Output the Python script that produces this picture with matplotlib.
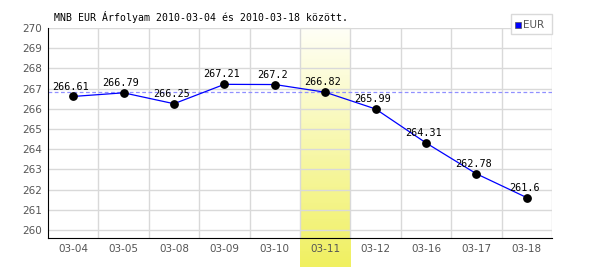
import matplotlib
matplotlib.use("Agg")
import matplotlib.pyplot as plt
import numpy as np
from matplotlib.patches import Rectangle

dates = ["03-04", "03-05", "03-08", "03-09", "03-10", "03-11", "03-12", "03-16", "03-17", "03-18"]
values = [266.61, 266.79, 266.25, 267.21, 267.2, 266.82, 265.99, 264.31, 262.78, 261.6]
value_labels = ["266.61", "266.79", "266.25", "267.21", "267.2", "266.82", "265.99", "264.31", "262.78", "261.6"]
highlight_index = 5
y_ticks = list(range(260, 271))
title = "MNB EUR Árfolyam 2010-03-04 és 2010-03-18 között."
series_name = "EUR"

fig = plt.figure(figsize=(6, 2.7), dpi=100)
ax = fig.add_axes([48/600, 1 - 238/270, 504/600, 210/270])
ymin, ymax = 259.6, 270.0
ax.set_xlim(-0.5, len(dates) - 0.5)
ax.set_ylim(ymin, ymax)

# highlight gradient (extends below axis)
grad = np.linspace(0, 1, 256).reshape(-1, 1)
top_c = np.array([1.0, 1.0, 0.97])
bot_c = np.array([0xf0, 0xf0, 0x60]) / 255.0
img = top_c[None, None, :] * (1 - grad[..., None]) + bot_c[None, None, :] * grad[..., None]
px = (ymax - ymin) / 210.0
ybot = ymin - 29 * px
ytop = ymax + 1 * px
ax.imshow(img, extent=(highlight_index - 0.5, highlight_index + 0.5, ybot, ytop),
          aspect="auto", origin="upper", clip_on=False, zorder=0.5)

# grid
gcol = "#d9d9d9"
for y in y_ticks:
    ax.axhline(y, color=gcol, lw=1, zorder=1)
for i in range(len(dates)):
    ax.axvline(i + 0.5, color=gcol, lw=1, zorder=1)

# reference dashed line
ax.axhline(values[highlight_index], color="#9090ff", lw=0.9, ls=(0, (3, 2)), zorder=2)

x = np.arange(len(dates))
ax.plot(x, values, color="#0000ff", lw=0.9, zorder=3)
ax.scatter(x, values, s=28, color="black", zorder=4)
for xi, v, lab in zip(x, values, value_labels):
    ax.annotate(lab, (xi, v), xytext=(-2, 3.5), textcoords="offset points",
                ha="center", va="bottom", fontsize=7.3, family="DejaVu Sans Mono",
                color="black", zorder=5)

for s in ["top", "right"]:
    ax.spines[s].set_visible(False)
ax.spines["left"].set_color("black")
ax.spines["bottom"].set_color("black")
ax.spines["left"].set_zorder(6)
ax.spines["bottom"].set_zorder(6)

ax.set_yticks(y_ticks)
ax.set_yticklabels([str(t) for t in y_ticks])
ax.set_xticks(x)
ax.set_xticklabels(dates)
ax.tick_params(axis="both", length=0, labelsize=7.5, colors="#555555", labelcolor="#555555")
ax.tick_params(axis="x", pad=4)
ax.tick_params(axis="y", pad=4)
ax.patch.set_alpha(0)

fig.text(54/600, 1 - 17/270, title, fontsize=7.1, family="DejaVu Sans Mono",
         ha="left", va="center", color="black")

# legend box
fig.patches.append(Rectangle((511/600, 1 - 34/270), 41/600, 20/270, transform=fig.transFigure,
                             facecolor="white", edgecolor=gcol, lw=1, zorder=10))
fig.patches.append(Rectangle((515/600, 1 - 28/270), 6/600, 6/270, transform=fig.transFigure,
                             facecolor="#0000ff", edgecolor="#555555", lw=0.5, zorder=11))
fig.text(523/600, 1 - 25/270, series_name, fontsize=7.5, color="#555555", ha="left", va="center", zorder=12)

fig.savefig("out.png", dpi=100)
